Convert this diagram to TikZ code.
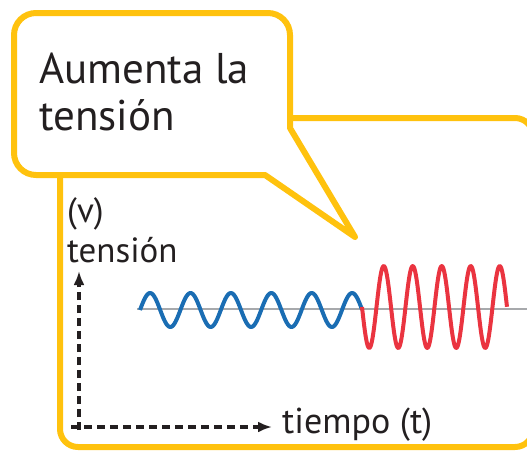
\documentclass[tikz,border=0pt]{standalone}
\usepackage{fontspec}
\setmainfont{PT Sans}
\usetikzlibrary{arrows.meta}
\definecolor{calloutyellow}{HTML}{FFC20E}
\definecolor{waveblue}{HTML}{1A6DB3}
\definecolor{wavered}{HTML}{EA3440}
\definecolor{axisgray}{HTML}{A7A9AC}
\definecolor{inkblack}{HTML}{231F20}

\begin{document}
\begin{tikzpicture}[x=1pt,y=-1pt,
  yellowline/.style={calloutyellow,line width=6pt,line join=round},
  dashaxis/.style={inkblack,line width=4pt,dash pattern=on 8pt off 5pt,-{Latex[length=14pt,width=11pt]}},
  wave/.style={line width=4pt,line join=round},
  label/.style={anchor=base west,align=left,inner sep=0,text=inkblack}]
  \useasboundingbox (0,0) rectangle (527,450);
  \clip (0,0) rectangle (527,450);
  % frame behind the callout
  \draw[yellowline,rounded corners=18] (60,118) rectangle (533,447);
  % callout
  \draw[yellowline,fill=white] (265,175) [rounded corners=22] -- (14,175) -- (14,13) -- (290,13)
    [sharp corners] -- (290,128) -- (355,237) -- cycle;
  \node[label,font=\fontsize{43}{47}\selectfont] (callout) at (39,130) {Aumenta la\\tensión};
  % axes
  \node[label,font=\fontsize{35}{40}\selectfont] (vlabel) at (67,262) {(v)\\tensión};
  \node[label,font=\fontsize{36}{40}\selectfont] (tlabel) at (282,433) {tiempo (t)};
  \coordinate (vstart) at (79,430);
  \coordinate (vend) at (79,271);
  \coordinate (hstart) at (71,427);
  \coordinate (hend) at (272,427);
  \draw[dashaxis] (vstart) -- (vend);
  \draw[dashaxis] (hstart) -- (hend);
  % signal
  \draw[axisgray,line width=2pt] (137,309) -- (527,309);
  \draw[wave,waveblue] plot[domain=0:5.5,samples=220,smooth] ({140+\x*40.4},{310-17*sin(360*\x)});
  \draw[wave,wavered] plot[domain=0:5,samples=220,smooth] ({362+\x*29},{307+41*sin(360*\x)});
\end{tikzpicture}
\end{document}
